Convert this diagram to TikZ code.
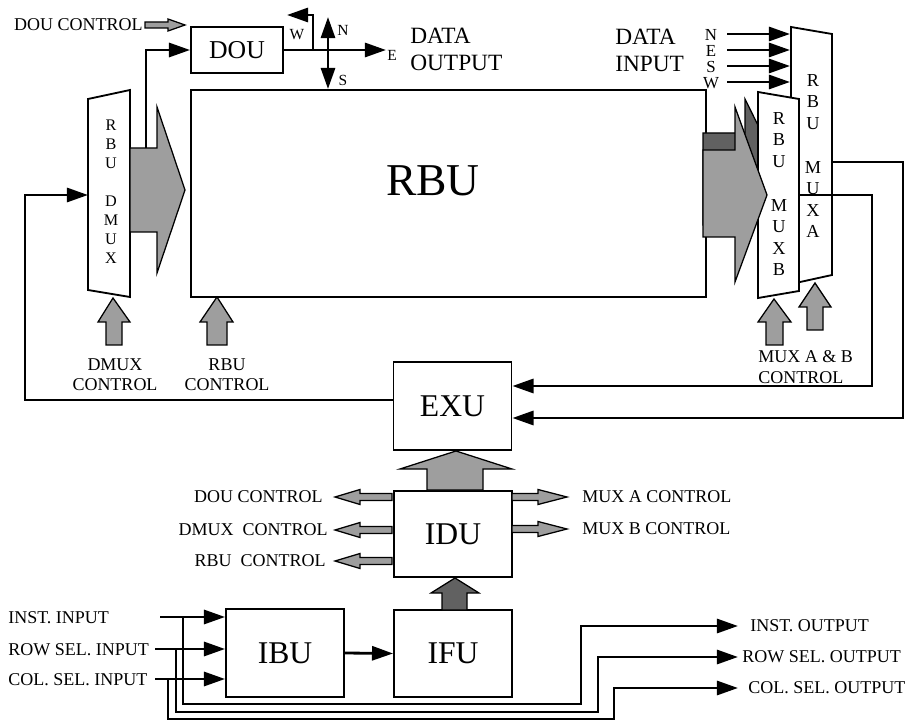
\documentclass[tikz,border=0pt]{standalone}
\usepackage{fontspec}
\setmainfont{Liberation Serif}
\usetikzlibrary{arrows.meta,positioning,calc}

\begin{document}
\begin{tikzpicture}[
  x=0.025cm, y=-0.025cm,
  >={Triangle[length=15pt,width=10pt]},
  block/.style={rectangle, draw, line width=1.3pt, fill=white, inner sep=0pt},
  unit/.style={block, minimum width=2.95cm, minimum height=2.18cm,
    font=\fontsize{22.5}{24}\selectfont},
  mux/.style={draw, line width=1.3pt, fill=white},
  muxletters/.style={align=center, inner sep=0pt, font=\fontsize{13}{15.3}\selectfont},
  conn/.style={->, line width=2pt},
  bus/.style={draw, line width=0.9pt, fill=black!38},
  darkbus/.style={draw, line width=0.9pt, fill=black!62},
  lbl/.style={font=\fontsize{12.8}{14.4}\selectfont, inner sep=0pt},
  compass/.style={font=\fontsize{11}{12}\selectfont, inner sep=0pt},
  bigtitle/.style={font=\fontsize{16.6}{19.2}\selectfont, inner sep=0pt, align=left}
]
\useasboundingbox (0,0) rectangle (915,721);

% Register bank and data output unit
\node[block, minimum width=12.875cm, minimum height=5.175cm] (rbu) at (448.5,193.5) {};
\node[font=\fontsize{32.4}{36}\selectfont] (rbutext) at (433,181) {RBU};
\node[block, minimum width=2.3cm, minimum height=1.15cm, font=\fontsize{18.3}{20}\selectfont]
  (dou) at (237,50) {DOU};

% Control units
\node[unit, minimum height=2.2cm] (exu) at (452.5,406) {EXU};
\node[unit, minimum height=2.15cm] (idu) at (453,534) {IDU};
\node[unit] (ifu) at (453,653.5) {IFU};
\node[unit, minimum height=2.2cm] (ibu) at (285,653) {IBU};

% Demultiplexer and multiplexers
\draw[mux] (88,99) -- (130,90) -- (130,297) -- (88,290) -- cycle;
\node[muxletters, font=\fontsize{11.5}{13.5}\selectfont] (dmux) at (111,192) {R\\B\\U\\[13.5pt]D\\M\\U\\X};
\draw[bus] (130,148) -- (157,148) -- (157,107) -- (185,190) -- (157,273) -- (157,232) -- (130,232) -- cycle;

\draw[mux] (791,27) -- (832,34) -- (832,275) -- (791,284) -- cycle;
\draw[darkbus] (703,133) -- (745,133) -- (745,99) -- (790,190) -- (745,225) -- (703,225) -- cycle;
\draw[mux] (758,92) -- (799,99) -- (799,291) -- (758,298) -- cycle;
\draw[bus] (703,150) -- (735,150) -- (735,107) -- (767,195) -- (735,282) -- (735,237) -- (703,237) -- cycle;
\node[muxletters] (muxb) at (779,194) {R\\B\\U\\[16pt]M\\U\\X\\B};
\node[muxletters] (muxa) at (813,156) {R\\B\\U\\[16pt]M\\U\\X\\A};

% Control buses
\draw[bus] (106,345) -- (106,322) -- (98,322) -- (113,298) -- (130,322) -- (122,322) -- (122,345) -- cycle;
\draw[bus] (207,345) -- (207,322) -- (200,322) -- (217,297) -- (233,322) -- (227,322) -- (227,345) -- cycle;
\draw[bus] (766,345) -- (766,322) -- (758,322) -- (774,299) -- (791,322) -- (783,322) -- (783,345) -- cycle;
\draw[bus] (807,330) -- (807,307) -- (799,307) -- (815,283) -- (831,307) -- (823,307) -- (823,330) -- cycle;
\draw[bus] (427,490) -- (427,469) -- (400,469) -- (456,451) -- (512,469) -- (483,469) -- (483,490) -- cycle;
\draw[darkbus] (442,610) -- (442,593) -- (431,593) -- (455,578) -- (479,593) -- (467,593) -- (467,610) -- cycle;
\draw[bus] (145,22) -- (168,22) -- (168,19) -- (185,25) -- (168,31) -- (168,28) -- (145,28) -- cycle;
\foreach \yy in {497,530,561}
  \draw[bus] (392,\yy-3.5) -- (360,\yy-3.5) -- (360,\yy-7.5) -- (335,\yy) -- (360,\yy+7.5) -- (360,\yy+3.5) -- (392,\yy+3.5) -- cycle;
\foreach \yy in {497,529}
  \draw[bus] (512,\yy-3.5) -- (538,\yy-3.5) -- (538,\yy-7.5) -- (567,\yy) -- (538,\yy+7.5) -- (538,\yy+3.5) -- (512,\yy+3.5) -- cycle;

% Labels
\node[lbl, anchor=east] (doutop) at (143,25) {DOU CONTROL};
\node[lbl, align=center] (dmuxctl) at (115,375) {DMUX\\CONTROL};
\node[lbl, align=center] (rbuctl) at (227,375) {RBU\\CONTROL};
\node[lbl, align=left, anchor=west] (muxctl) at (758,367) {MUX A \& B\\CONTROL};
\node[lbl, anchor=east] (iduout1) at (323,497) {DOU CONTROL};
\node[lbl, anchor=east] (iduout2) at (328,530) {DMUX\ \ CONTROL};
\node[lbl, anchor=east] (iduout3) at (326,561) {RBU\ \ CONTROL};
\node[lbl, anchor=west] (iduout4) at (582,497) {MUX A CONTROL};
\node[lbl, anchor=west] (iduout5) at (582,529) {MUX B CONTROL};
\node[bigtitle, anchor=west] (dataout) at (410,49) {DATA\\OUTPUT};
\node[bigtitle, anchor=west] (datain) at (615,50) {DATA\\INPUT};

% Connectors round the register bank
\coordinate (dmuxin) at (88,195);
\coordinate (muxbout) at (799,195);
\coordinate (muxaout) at (832,162);
\coordinate (doutap) at (146,148);
\draw[conn] (exu.west |- 0,400) -| (25,195) -- (dmuxin);
\draw[conn] (muxbout) -| (872,386) -- (exu.east |- 0,386);
\draw[conn] (muxaout) -| (903,418) -- (exu.east |- 0,418);
\draw[conn] (doutap) |- (dou.west);

% Data output directions
\coordinate (wtap) at (313,50);
\coordinate (eout) at (386,50);
\coordinate (wout) at (287,15);
\coordinate (nout) at (328,17);
\coordinate (sout) at (328,89);
\draw[conn] (dou.east) -- (eout);
\draw[conn] (wtap) |- (wout);
\draw[<->, line width=2pt] (nout) -- (sout);
\node[compass] (wlbl) at (297,35) {W};
\node[compass] (nlbl) at (343,30) {N};
\node[compass] (slbl) at (343,80) {S};
\node[compass] (elbl) at (392,55) {E};

% Data input directions
\foreach \d/\yy in {N/34,E/50,S/66,W/82}{
  \node[compass, font=\fontsize{12}{12}\selectfont] (in\d) at (711,\yy+1) {\d};
  \draw[conn] (727,\yy) -- (790,\yy);
}

% Instruction path
\draw[conn] (ibu.east) -- (ifu.west);
\foreach \nm/\txt/\yy/\xs in {inst/INST. INPUT/617/160, row/ROW SEL. INPUT/649/155, col/COL. SEL. INPUT/679/155}{
  \node[lbl, anchor=west] (lbl\nm) at (8,\yy+1) {\txt};
  \coordinate (in\nm) at (\xs,\yy);
  \draw[conn] (in\nm) -- (in\nm -| ibu.west);
}
\foreach \nm/\txt/\tx/\by/\ux/\oy/\lx in {inst/INST. OUTPUT/183/704/581/626/750, row/ROW SEL. OUTPUT/176/712/598/657/742, col/COL. SEL. OUTPUT/168/719/614/688/748}{
  \coordinate (out\nm) at (738,\oy);
  \node[lbl, anchor=west] (lblout\nm) at (\lx,\oy) {\txt};
  \draw[conn] (in\nm -| \tx,0) |- (\ux,\by) |- (out\nm);
}

\end{tikzpicture}
\end{document}
